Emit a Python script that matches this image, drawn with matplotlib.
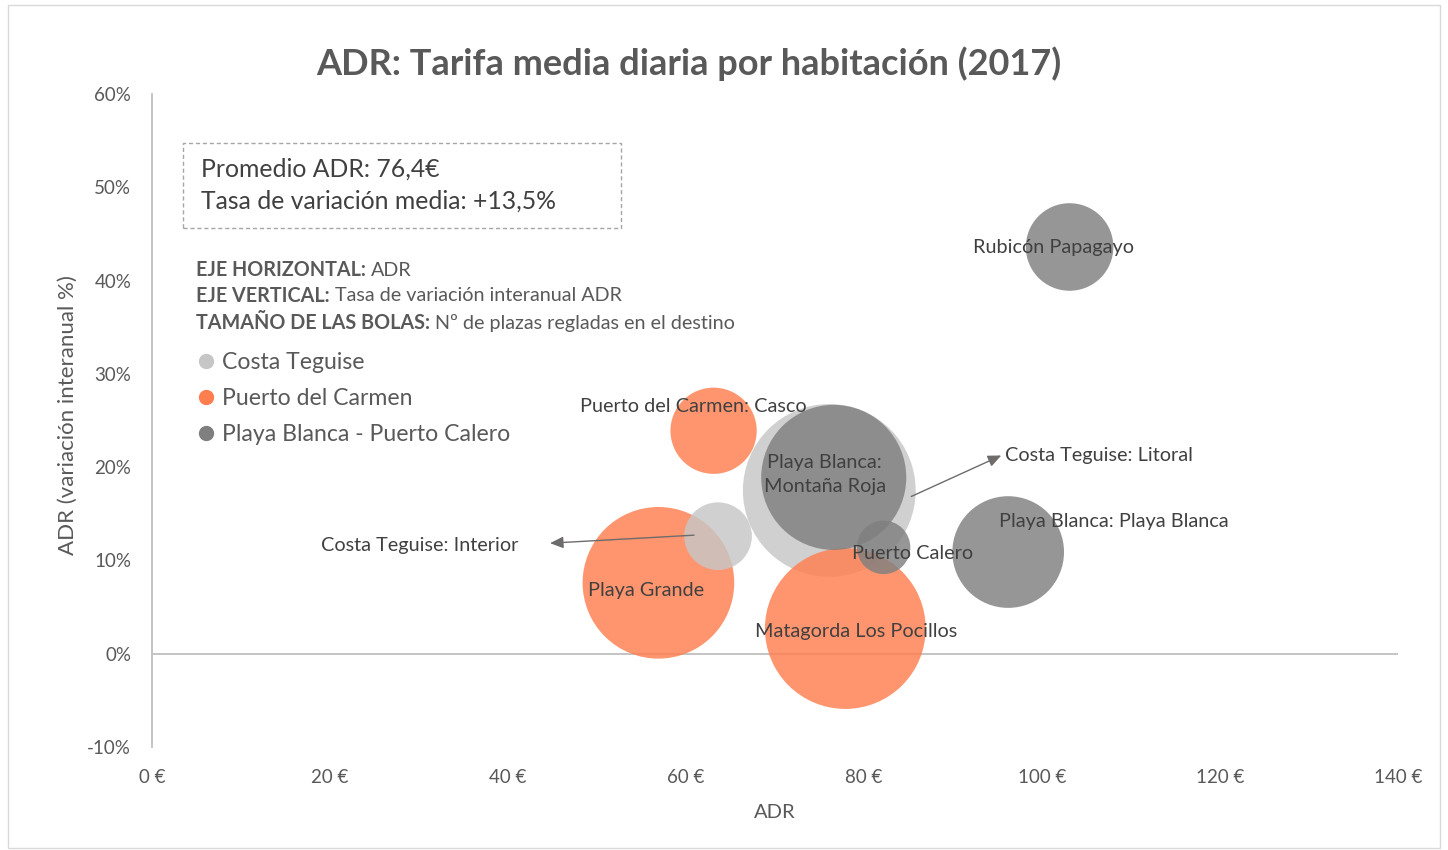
import numpy as np
import matplotlib
matplotlib.use("Agg")
import matplotlib.pyplot as plt
from matplotlib.lines import Line2D
from matplotlib.patches import Rectangle
from matplotlib.transforms import offset_copy
from matplotlib.ticker import FuncFormatter

plt.rcParams['font.family'] = ['Lato', 'DejaVu Sans']

# --- datos ---
zonas = ['Costa Teguise: Litoral', 'Costa Teguise: Interior', 'Puerto del Carmen: Casco',
         'Playa Grande', 'Matagorda Los Pocillos', 'Playa Blanca: Montaña Roja',
         'Puerto Calero', 'Playa Blanca: Playa Blanca', 'Rubicón Papagayo']
etiquetas = ['Costa Teguise: Litoral', 'Costa Teguise: Interior', 'Puerto del Carmen: Casco',
             'Playa Grande', 'Matagorda Los Pocillos', 'Playa Blanca:\nMontaña Roja',
             'Puerto Calero', 'Playa Blanca: Playa Blanca', 'Rubicón Papagayo']
serie = ['Costa Teguise', 'Costa Teguise', 'Puerto del Carmen',
         'Puerto del Carmen', 'Puerto del Carmen', 'Playa Blanca - Puerto Calero',
         'Playa Blanca - Puerto Calero', 'Playa Blanca - Puerto Calero', 'Playa Blanca - Puerto Calero']
adr = [76.1, 63.6, 63.1, 56.9, 77.9, 76.6, 82.2, 96.2, 103.1]          # €
variacion = [17.5, 12.6, 23.9, 7.6, 2.7, 18.9, 11.4, 10.9, 43.6]       # %
plazas = [26100, 4000, 6500, 20100, 22600, 18400, 2500, 10900, 6700]   # nº plazas regladas

series = ['Costa Teguise', 'Puerto del Carmen', 'Playa Blanca - Puerto Calero']
colores = {'Costa Teguise': '#C6C6C6',
           'Puerto del Carmen': '#FF7E4F',
           'Playa Blanca - Puerto Calero': '#7F7F7F'}

x_ticks = [0, 20, 40, 60, 80, 100, 120, 140]
y_ticks = [-10, 0, 10, 20, 30, 40, 50, 60]

# posición de etiquetas respecto al centro de cada bola (en px)
lab_off = {
    'Costa Teguise: Interior': (-200, -9, 'right'),
    'Puerto del Carmen: Casco': (-20, 24, 'center'),
    'Playa Grande': (-12, -8, 'center'),
    'Matagorda Los Pocillos': (11, -3, 'center'),
    'Playa Blanca: Montaña Roja': (-9, 3, 'center'),
    'Puerto Calero': (29, -6, 'center'),
    'Playa Blanca: Playa Blanca': (106, 31, 'center'),
    'Rubicón Papagayo': (-16, -1, 'center'),
    'Costa Teguise: Litoral': (176, 35, 'left'),
}
# flechas (cola, punta) respecto al centro de la bola (px)
flechas = {
    'Costa Teguise: Litoral': ((82, -6), (172, 35)),
    'Costa Teguise: Interior': ((-24, 1), (-168, -7)),
}

W, H, DPI = 1448, 850, 100
PT = 72 / DPI
GRIS = '#595959'

fig = plt.figure(figsize=(W / DPI, H / DPI), dpi=DPI)
ax = fig.add_axes([152 / W, 1 - 747 / H, 1246 / W, 653 / H])
ax.set_xlim(0, 140)
ax.set_ylim(-10, 60)

# bolas: área proporcional a plazas, la mayor con radio ~86 px
r_max = 86.4
p_max = max(plazas)
orden = np.argsort(plazas)[::-1]
for rank, i in enumerate(orden):
    r_px = r_max * np.sqrt(plazas[i] / p_max)
    s = (2 * r_px * PT) ** 2
    ax.scatter(adr[i], variacion[i], s=s, color=colores[serie[i]], alpha=0.82,
               edgecolors='none', zorder=3 + rank)

# etiquetas
for i, z in enumerate(zonas):
    dx, dy, ha = lab_off[z]
    ax.annotate(etiquetas[i], xy=(adr[i], variacion[i]), xytext=(dx * PT, dy * PT),
                textcoords='offset points', ha=ha, va='center', fontsize=14.3,
                color='#404040', zorder=20, linespacing=1.45)

for z, (cola, punta) in flechas.items():
    i = zonas.index(z)
    tr = offset_copy(ax.transData, fig=fig, x=punta[0] * PT, y=punta[1] * PT, units='points')
    ax.annotate('', xy=(adr[i], variacion[i]), xycoords=tr,
                xytext=((cola[0] - punta[0]) * PT, (cola[1] - punta[1]) * PT),
                textcoords='offset points', zorder=21,
                arrowprops=dict(arrowstyle='-|>,head_length=0.8,head_width=0.35',
                                color='#6E6B6B', lw=1, shrinkA=0, shrinkB=0))

# ejes
for sp in ['top', 'right', 'bottom']:
    ax.spines[sp].set_visible(False)
ax.spines['left'].set_color('#BFBFBF')
ax.spines['left'].set_linewidth(1.3)
ax.axhline(0, color='#BFBFBF', lw=1.3, zorder=1)
ax.set_xticks(x_ticks)
ax.set_yticks(y_ticks)
ax.xaxis.set_major_formatter(FuncFormatter(lambda v, p: f'{v:.0f} €'))
ax.yaxis.set_major_formatter(FuncFormatter(lambda v, p: f'{v:.0f}%'))
ax.tick_params(axis='both', length=0, labelsize=13.5, labelcolor=GRIS)
ax.tick_params(axis='y', pad=15)
ax.tick_params(axis='x', pad=15.5)
ax.set_xlabel('ADR', fontsize=14.5, color=GRIS, va='center', ha='center')
ax.set_ylabel('ADR (variación interanual %)', fontsize=16, color=GRIS, va='center', ha='center')
ax.xaxis.set_label_coords(0.5, (747 - 812) / 653)
ax.yaxis.set_label_coords((68 - 152) / 1246, (747 - 415) / 653)


def fx(px):
    return px / W


def fy(py):
    return 1 - py / H


# título
fig.text(fx(689), fy(64), 'ADR: Tarifa media diaria por habitación (2017)', ha='center',
         va='center', fontsize=26, fontweight='bold', color=GRIS)

# marco exterior
fig.patches.append(Rectangle((fx(8), fy(848)), (1440 - 8) / W, (848 - 5) / H, fill=False,
                             edgecolor='#D9D9D9', lw=1, transform=fig.transFigure))

# recuadro con promedios
fig.patches.append(Rectangle((fx(183), fy(228)), (621 - 183) / W, (228 - 143) / H, fill=False,
                             edgecolor='#A6A6A6', lw=1, ls=(0, (3, 2)),
                             transform=fig.transFigure))
fig.text(fx(201), fy(169), 'Promedio ADR: 76,4€', fontsize=17.8, color='#404040', va='center')
fig.text(fx(201), fy(201), 'Tasa de variación media: +13,5%', fontsize=17.8, color='#404040',
         va='center')

# texto explicativo (negrita + normal)
renderer = fig.canvas.get_renderer()
notas = [('EJE HORIZONTAL:', 'ADR', 270),
         ('EJE VERTICAL:', 'Tasa de variación interanual ADR', 296),
         ('TAMAÑO DE LAS BOLAS:', 'Nº de plazas regladas en el destino', 323)]
for neg, txt, py in notas:
    t = fig.text(fx(196), fy(py), neg, fontsize=14.2, fontweight='bold', color=GRIS, va='center')
    bb = t.get_window_extent(renderer)
    fig.text((bb.x1 + 5) / W, fy(py), txt, fontsize=14.2, color=GRIS, va='center')

# leyenda
handles = [Line2D([], [], marker='o', ls='', color=colores[s], markersize=10, label=s)
           for s in series]
fig.legend(handles=handles, loc='upper left', bbox_to_anchor=(fx(195), fy(352)),
           frameon=False, fontsize=16.6, handlelength=0.95, handletextpad=0.2,
           labelspacing=0.66, borderpad=0, borderaxespad=0, labelcolor=GRIS)

fig.savefig('out.png', dpi=DPI)
